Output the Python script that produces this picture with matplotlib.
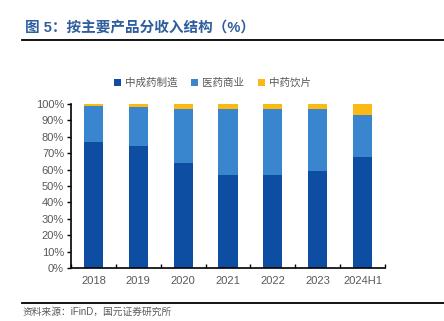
import numpy as np
import matplotlib
matplotlib.use("Agg")
import matplotlib.pyplot as plt
from matplotlib.lines import Line2D

plt.rcParams['font.family'] = ['Liberation Sans', 'Noto Sans CJK SC', 'DejaVu Sans']

### data (% share of revenue)
years = ["2018", "2019", "2020", "2021", "2022", "2023", "2024H1"]
zy_make = [77.0, 74.4, 63.8, 56.7, 56.7, 59.1, 67.7]      # 中成药制造
yy_trade = [21.8, 24.0, 32.9, 40.0, 40.4, 37.6, 25.6]    # 医药商业
zy_pian = [1.2, 1.6, 3.3, 3.3, 2.9, 3.3, 6.7]            # 中药饮片
names = ["中成药制造", "医药商业", "中药饮片"]

colors = ["#0D4EA2", "#3986CF", "#FBB914"]

fig = plt.figure(figsize=(4.44, 3.21), dpi=100)
ax = fig.add_axes([0.16, 0.165, 0.707, 0.511])

x = np.arange(len(years))
w = 0.43
b1 = np.array(zy_make)
b2 = b1 + np.array(yy_trade)
ax.bar(x, zy_make, w, color=colors[0], label=names[0])
ax.bar(x, yy_trade, w, bottom=b1, color=colors[1], label=names[1])
ax.bar(x, zy_pian, w, bottom=b2, color=colors[2], label=names[2])

ax.set_xlim(-0.5, len(years) - 0.5)
ax.set_ylim(0, 100)
ax.set_yticks(np.arange(0, 101, 10))
ax.set_yticklabels(["%d%%" % v for v in range(0, 101, 10)])
ax.set_xticks(x)
ax.set_xticklabels(years)
ax.set_xticks(np.arange(-0.5, len(years), 1), minor=True)

for s in ["top", "right"]:
    ax.spines[s].set_visible(False)
for s in ["left", "bottom"]:
    ax.spines[s].set_linewidth(1.2)
    ax.spines[s].set_color("black")

ax.tick_params(axis='y', direction='out', length=3, width=1, labelsize=8, labelcolor="#595959", pad=2)
ax.tick_params(axis='x', which='major', length=0, labelsize=8, labelcolor="#595959", pad=6)
ax.tick_params(axis='x', which='minor', direction='in', length=3, width=1)

ax.legend(loc='lower center', bbox_to_anchor=(0.45, 1.04), ncol=3, frameon=False,
          fontsize=7.6, handlelength=0.7, handleheight=0.7, handletextpad=0.35,
          columnspacing=1.3, labelcolor="#595959")

### title, rules, source
fig.text(0.056, 0.91, "图 5：按主要产品分收入结构（%）", fontsize=10.5, fontweight='bold',
         color="#2F5E9E", va='center')
fig.add_artist(Line2D([0.05, 1.0], [0.875, 0.875], color="black", lw=1.3))
fig.add_artist(Line2D([0.05, 1.0], [0.056, 0.056], color="black", lw=1.3))
fig.text(0.05, 0.012, "资料来源：iFinD，国元证券研究所", fontsize=7, color="#595959", va='bottom')

fig.savefig("out.png", dpi=100)
